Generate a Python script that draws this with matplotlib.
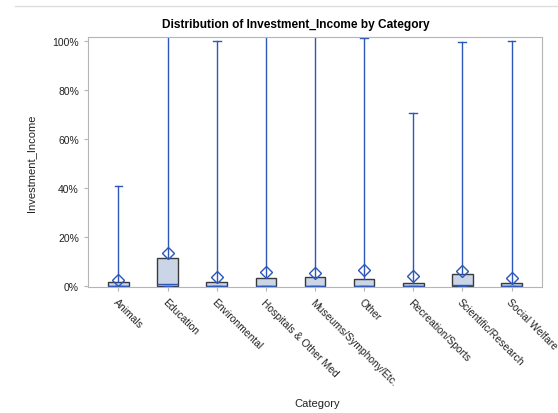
""" Box plot of Investment_Income by Category (SAS-like style). """
import matplotlib
matplotlib.use('Agg')
import matplotlib.pyplot as plt
from matplotlib.lines import Line2D
from matplotlib.ticker import PercentFormatter


# data (fractions of 1)
categories = ['Animals', 'Education', 'Environmental', 'Hospitals & Other Med',
    'Museums/Symphony/Etc.', 'Other', 'Recreation/Sports', 'Scientific/Research',
    'Social Welfare']
whis_lo = [0.0, 0.0, 0.0, 0.0, 0.0, 0.0, 0.0, 0.0, 0.0]
q1 = [0.0, 0.0, 0.0, 0.0, 0.0, 0.0, 0.0, 0.0, 0.0]
median = [0.002, 0.007, 0.002, 0.002, 0.002, 0.002, 0.001, 0.003, 0.001]
q3 = [0.015, 0.114, 0.015, 0.034, 0.037, 0.027, 0.011, 0.048, 0.012]
whis_hi = [0.408, 1.6, 0.998, 1.6, 1.6, 1.01, 0.706, 0.997, 1.0]
means = [0.024, 0.134, 0.038, 0.058, 0.054, 0.066, 0.041, 0.060, 0.034]
title = 'Distribution of Investment_Income by Category'
xlabel = 'Category'
ylabel = 'Investment_Income'

# style
fig_size = (5.58, 4.14)
fsize_tick = 7.5
fsize_label = 8
fsize_title = 8.6
col_box = '#CAD5E6'
col_edge = '#3A3A3A'
col_line = '#2D56B8'
col_frame = '#B5B5B5'

plt.rcParams['font.family'] = ['Liberation Sans', 'DejaVu Sans']

fig = plt.figure(figsize=fig_size, dpi=100)
ax = fig.add_axes([88/558, 1-288/414, (542-88)/558, (288-38)/414])

stats = []
for i, cat in enumerate(categories):
    stats.append({'label': cat, 'whislo': whis_lo[i], 'q1': q1[i], 'med': median[i],
        'q3': q3[i], 'whishi': whis_hi[i], 'mean': means[i], 'fliers': []})

ax.bxp(stats, positions=list(range(len(categories))), widths=0.42, showmeans=True,
    patch_artist=True, showfliers=False,
    boxprops=dict(facecolor=col_box, edgecolor=col_edge, linewidth=1.0),
    medianprops=dict(color=col_line, linewidth=1.0),
    whiskerprops=dict(color=col_line, linewidth=1.0),
    capprops=dict(color=col_line, linewidth=1.0),
    meanprops=dict(marker='D', markerfacecolor='none', markeredgecolor=col_line,
        markersize=6, markeredgewidth=1.0),
    capwidths=0.16, manage_ticks=False)

ax.set_xlim(-0.62, len(categories)-1+0.62)
ax.set_ylim(-0.004, 1.016)
ax.set_yticks([0, 0.2, 0.4, 0.6, 0.8, 1.0])
ax.yaxis.set_major_formatter(PercentFormatter(1.0, decimals=0))
ax.set_xticks(list(range(len(categories))))
ax.set_xticklabels(categories, rotation=-45, ha='left', rotation_mode='anchor')
ax.tick_params(axis='both', labelsize=fsize_tick, colors=col_frame, labelcolor='#222222',
    length=3, width=0.8)
ax.tick_params(axis='x', pad=4)
for sp in ax.spines.values():
    sp.set_color(col_frame)
    sp.set_linewidth(0.8)

ax.set_xlabel(xlabel, fontsize=fsize_label, color='#222222')
ax.xaxis.set_label_coords((317-88)/(542-88), -(399-288)/250)
ax.set_ylabel(ylabel, fontsize=fsize_label, color='#222222')
ax.yaxis.set_label_coords(-(88-36)/454, 0.5)
fig.text(296/558, 1-25/414, title, fontsize=fsize_title, fontweight='bold',
    ha='center', va='center')

# thin separator line across the top of the page
fig.add_artist(Line2D([15/558, 1], [1-7/414, 1-7/414], color='#DDDDDD', linewidth=1.0))

fig.savefig('out.png', dpi=100)
